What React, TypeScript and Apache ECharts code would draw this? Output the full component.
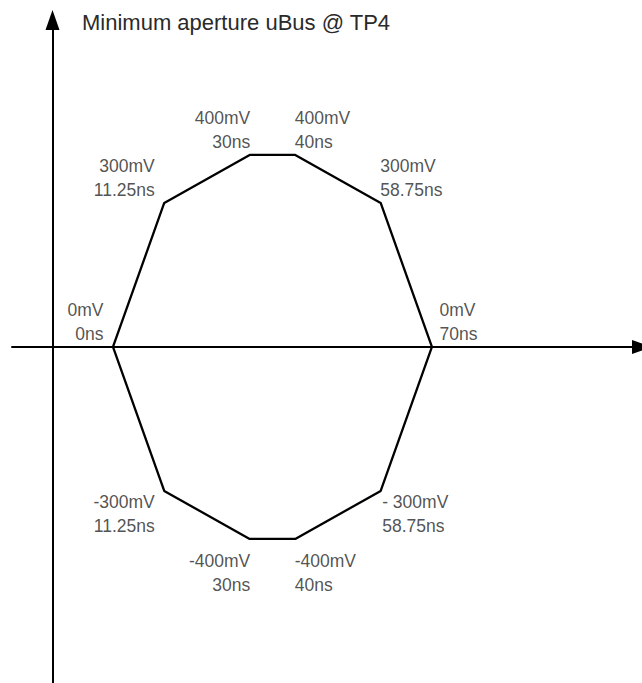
import React, { useEffect, useRef } from "react";
import * as echarts from "echarts";

// Vertices of the minimum aperture (eye mask), clockwise from the left tip
const vertexTimeNs = [0, 11.25, 30, 40, 58.75, 70, 58.75, 40, 30, 11.25];
const vertexVoltageMv = [0, 300, 400, 400, 300, 0, -300, -400, -400, -300];
const voltageText = ["0mV", "300mV", "400mV", "400mV", "300mV", "0mV", "- 300mV", "-400mV", "-400mV", "-300mV"];
const titleText = "Minimum aperture uBus @ TP4";

// label placement relative to each vertex (style only)
const labelPlacement = [
  { dx: -9, dy: 0, align: "right", va: "bottom" },
  { dx: -9, dy: 0, align: "right", va: "bottom" },
  { dx: 1, dy: 0, align: "right", va: "bottom" },
  { dx: 0, dy: 0, align: "left", va: "bottom" },
  { dx: 0, dy: 0, align: "left", va: "bottom" },
  { dx: 8, dy: 0, align: "left", va: "bottom" },
  { dx: 2, dy: 0, align: "left", va: "top" },
  { dx: 0, dy: 11, align: "left", va: "top" },
  { dx: 1, dy: 11, align: "right", va: "top" },
  { dx: -9, dy: 0, align: "right", va: "top" },
];

const FONT = "'Liberation Sans', Arial, sans-serif";

export default function App() {
  const ref = useRef<HTMLDivElement>(null);
  useEffect(() => {
    if (!ref.current) return;
    const chart = echarts.init(ref.current, undefined, { renderer: "svg" });
    const outline = vertexTimeNs.map((t, i) => [t, vertexVoltageMv[i]]);
    outline.push([vertexTimeNs[0], vertexVoltageMv[0]]);
    const labelled = vertexTimeNs.map((t, i) => {
      const p = labelPlacement[i];
      return {
        value: [t, vertexVoltageMv[i]],
        label: {
          show: true,
          position: [p.dx, p.dy],
          align: p.align,
          verticalAlign: p.va,
          formatter: voltageText[i] + "\n" + t + "ns",
        },
      };
    });
    const axisLine = {
      show: true,
      symbol: ["none", "triangle"],
      symbolSize: [14, 20],
      lineStyle: { color: "#000", width: 2 },
    };
    chart.setOption({
      animation: false,
      backgroundColor: "#fff",
      title: {
        text: titleText,
        left: 82,
        top: 11,
        padding: 0,
        textStyle: { fontSize: 22, fontWeight: "normal", color: "#2a2a2a", fontFamily: FONT },
      },
      grid: { left: 12, right: 0, top: 20, bottom: 0, containLabel: false },
      xAxis: {
        type: "value",
        min: -22.16,
        max: 116.1,
        axisLine: { ...axisLine, onZero: true },
        axisTick: { show: false },
        axisLabel: { show: false },
        splitLine: { show: false },
      },
      yAxis: {
        type: "value",
        min: -700,
        max: 681,
        offset: -40.5,
        axisLine: { ...axisLine, onZero: false },
        axisTick: { show: false },
        axisLabel: { show: false },
        splitLine: { show: false },
      },
      series: [
        {
          type: "line",
          data: outline,
          showSymbol: false,
          silent: true,
          lineStyle: { color: "#000", width: 2.3 },
        },
        {
          type: "scatter",
          data: labelled,
          symbolSize: 1,
          silent: true,
          itemStyle: { color: "rgba(0,0,0,0)" },
          label: {
            show: true,
            fontSize: 17.5,
            lineHeight: 24,
            color: "#262626",
            fontFamily: FONT,
          },
        },
      ],
    });
    return () => chart.dispose();
  }, []);
  return (
    <div
      ref={ref}
      style={{ position: "fixed", left: 0, top: 0, width: 642, height: 683, background: "#fff" }}
    />
  );
}
